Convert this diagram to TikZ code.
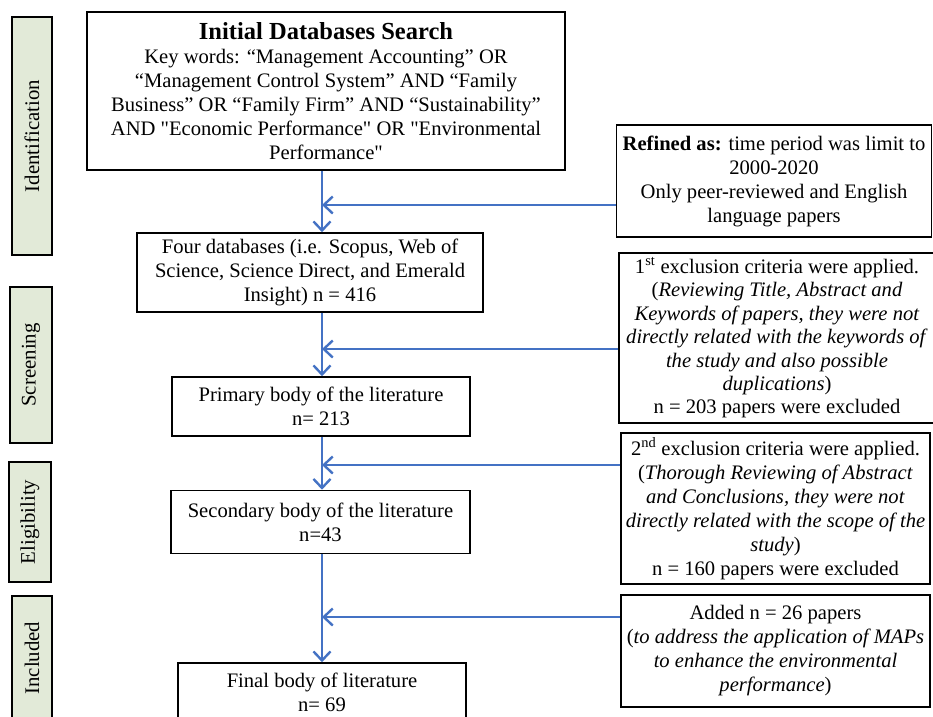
\documentclass[tikz,border=0pt]{standalone}
\usepackage{fontspec}
\setmainfont{Liberation Serif}[Ligatures=TeXOff]
\usetikzlibrary{arrows.meta}
\definecolor{flowblue}{RGB}{68,114,196}
\definecolor{tagfill}{RGB}{226,234,216}
\tikzset{
  box/.style={draw=black, line width=1.6pt, align=center, inner sep=1pt,
    font=\fontsize{20.6}{24}\selectfont},
  tagbox/.style={draw=black, fill=tagfill, line width=2pt, rotate=90, inner sep=0pt,
    font=\fontsize{20.8}{24}\selectfont},
  arr/.style={draw=flowblue, line width=2.4pt,
    -{Straight Barb[length=9pt,width=17pt,line width=2.4pt]}}
}
\begin{document}
\begin{tikzpicture}[x=1pt,y=-1pt]
\useasboundingbox (0,0) rectangle (933,716);
\clip (0,0) rectangle (933,716);
\fill[white] (0,0) rectangle (933,716);
% stage tags
\node[tagbox, minimum width=238, minimum height=40] (tid) at (32,136) {Identification};
\node[tagbox, minimum width=156, minimum height=42] (tsc) at (31,365) {Screening};
\node[tagbox, minimum width=120, minimum height=42] (tel) at (30,522) {Eligibility};
\node[tagbox, minimum width=124, minimum height=40] (tin) at (32,658) {Included};
% main boxes
\node[box, minimum width=478, minimum height=158] (init) at (326,91)
 {{\bfseries\fontsize{24.5}{26}\selectfont Initial Databases Search}\\
  Key words: “Management Accounting” OR\\
  “Management Control System” AND “Family\\
  Business” OR “Family Firm” AND “Sustainability”\\
  AND "Economic Performance" OR "Environmental\\
  Performance"};
\node[box, minimum width=346, minimum height=79] (four) at (310,272.5)
 {Four databases (i.e. Scopus, Web of\\ Science, Science Direct, and Emerald\\ Insight) n = 416};
\node[box, minimum width=298, minimum height=59] (prim) at (321,406.5)
 {Primary body of the literature\\ n= 213};
\node[box, minimum width=299, minimum height=63] (sec) at (320.5,522)
 {Secondary body of the literature\\ n=43};
\node[box, minimum width=288, minimum height=58] (fin) at (322,692)
 {Final body of literature\\ n= 69};
% side boxes
\node[box, minimum width=315, minimum height=112] (ref) at (774,181)
 {\textbf{Refined as:} time period was limit to\\ 2000-2020\\ Only peer-reviewed and English\\ language papers};
\node[box, minimum width=316, minimum height=170, inner sep=0pt,
      font=\fontsize{20.6}{23.4}\selectfont] (ex1) at (777,338)
 {1\textsuperscript{st} exclusion criteria were applied.\\
  (\textit{Reviewing Title, Abstract and}\\
  \textit{Keywords of papers, they were not}\\
  \textit{directly related with the keywords of}\\
  \textit{the study and also possible}\\
  \textit{duplications})\\
  n = 203 papers were excluded};
\node[box, minimum width=309, minimum height=151, inner sep=0pt] (ex2) at (775.5,508.5)
 {2\textsuperscript{nd} exclusion criteria were applied.\\
  (\textit{Thorough Reviewing of Abstract}\\
  \textit{and Conclusions, they were not}\\
  \textit{directly related with the scope of the}\\
  \textit{study})\\
  n = 160 papers were excluded};
\node[box, minimum width=309, minimum height=112] (add) at (775.5,651)
 {Added n = 26 papers\\
  (\textit{to address the application of MAPs}\\
  \textit{to enhance the environmental}\\
  \textit{performance})};
% connectors
\coordinate (spine) at (322,0);
\coordinate (h1) at (322,205);
\coordinate (h2) at (322,349);
\coordinate (h3) at (322,465);
\coordinate (h4) at (322,617);
\draw[arr] (init.south -| spine) -- (four.north -| spine);
\draw[arr] (four.south -| spine) -- (prim.north -| spine);
\draw[arr] (prim.south -| spine) -- (sec.north -| spine);
\draw[arr] (sec.south -| spine) -- (fin.north -| spine);
\draw[arr] (ref.west |- h1) -- (h1);
\draw[arr] (ex1.west |- h2) -- (h2);
\draw[arr] (ex2.west |- h3) -- (h3);
\draw[arr] (add.west |- h4) -- (h4);
\end{tikzpicture}
\end{document}
